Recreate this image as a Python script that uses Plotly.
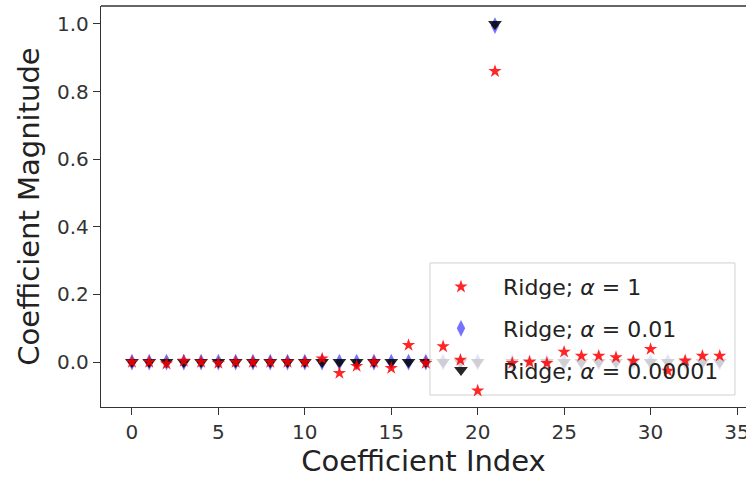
import plotly.graph_objects as go

idx = list(range(35))
ridge_1 = [0.0, 0.0, -0.005, 0.003, 0.0, -0.003, 0.0, 0.0, 0.0, 0.0,
           0.0, 0.01, -0.033, -0.012, 0.0, -0.018, 0.05, -0.003, 0.046, 0.006,
           -0.085, 0.86, -0.003, 0.0, -0.003, 0.03, 0.018, 0.018, 0.014, 0.003,
           0.038, -0.026, 0.004, 0.018, 0.018]
ridge_001 = [0.0] * 21 + [0.995] + [0.0] * 13
ridge_000001 = [0.0] * 21 + [1.0] + [0.0] * 13
x_ticks = [0, 5, 10, 15, 20, 25, 30, 35]
y_ticks = [0.0, 0.2, 0.4, 0.6, 0.8, 1.0]

# legend frame (data coordinates), drawn between the faded markers and the stars
frame_x = [17.24, 34.88, 34.88, 17.24, 17.24]
frame_y = [0.293, 0.293, -0.0976, -0.0976, 0.293]

font = "DejaVu Sans"
fig = go.Figure()
fig.add_trace(go.Scatter(
    x=idx, y=ridge_001, mode="markers", name="Ridge; <i>α</i> = 0.01",
    marker=dict(symbol="diamond-tall", size=12, color="rgba(0,0,255,0.55)", line=dict(width=0)),
    legendrank=2, legendgroup="b"))
fig.add_trace(go.Scatter(
    x=idx, y=ridge_000001, mode="markers", name="Ridge; <i>α</i> = 0.00001",
    marker=dict(symbol="triangle-down", size=12, color="rgba(0,0,0,0.85)", line=dict(width=0)),
    legendrank=3, legendgroup="c"))
fig.add_trace(go.Scatter(
    x=frame_x, y=frame_y, mode="lines", fill="toself",
    fillcolor="rgba(255,255,255,0.8)", line=dict(color="#d0d0d0", width=1),
    showlegend=False, hoverinfo="skip"))
fig.add_trace(go.Scatter(
    x=idx, y=ridge_1, mode="markers", name="Ridge; <i>α</i> = 1",
    marker=dict(symbol="star", size=10, color="rgba(255,0,0,0.85)", line=dict(width=0)),
    legendrank=1, legendgroup="a"))

axis_common = dict(
    showgrid=False, zeroline=False, showline=True, linecolor="#333333", linewidth=1.3,
    ticks="outside", ticklen=7, tickwidth=1.2, tickcolor="#333333",
    tickfont=dict(family=font, size=20, color="#333333"), automargin=False,
    ticklabeloverflow="allow",
)
fig.update_layout(
    width=746, height=479,
    margin=dict(l=101, r=0, t=6, b=72),
    plot_bgcolor="white", paper_bgcolor="white",
    font=dict(family=font, color="#222222"),
    xaxis=dict(range=[-1.79, 35.52], tickvals=x_ticks,
               title=dict(text="Coefficient Index", font=dict(family=font, size=29, color="#222222"), standoff=2),
               **axis_common),
    yaxis=dict(range=[-0.133, 1.053], tickvals=y_ticks, tickformat=".1f",
               title=dict(text="Coefficient Magnitude", font=dict(family=font, size=29, color="#222222"), standoff=8),
               **axis_common),
    legend=dict(x=0.493, y=0.04, xanchor="left", yanchor="bottom",
                bgcolor="rgba(0,0,0,0)", borderwidth=0,
                font=dict(family=font, size=22, color="#222222"),
                itemwidth=74, tracegroupgap=10),
    showlegend=True,
)
fig.add_shape(type="line", xref="paper", yref="paper", x0=0, x1=1, y0=1, y1=1,
              line=dict(color="#333333", width=1.3))
fig.write_html("out.html", config={"displayModeBar": False},
               post_script="document.body.style.margin='0';document.body.style.overflow='hidden';")
